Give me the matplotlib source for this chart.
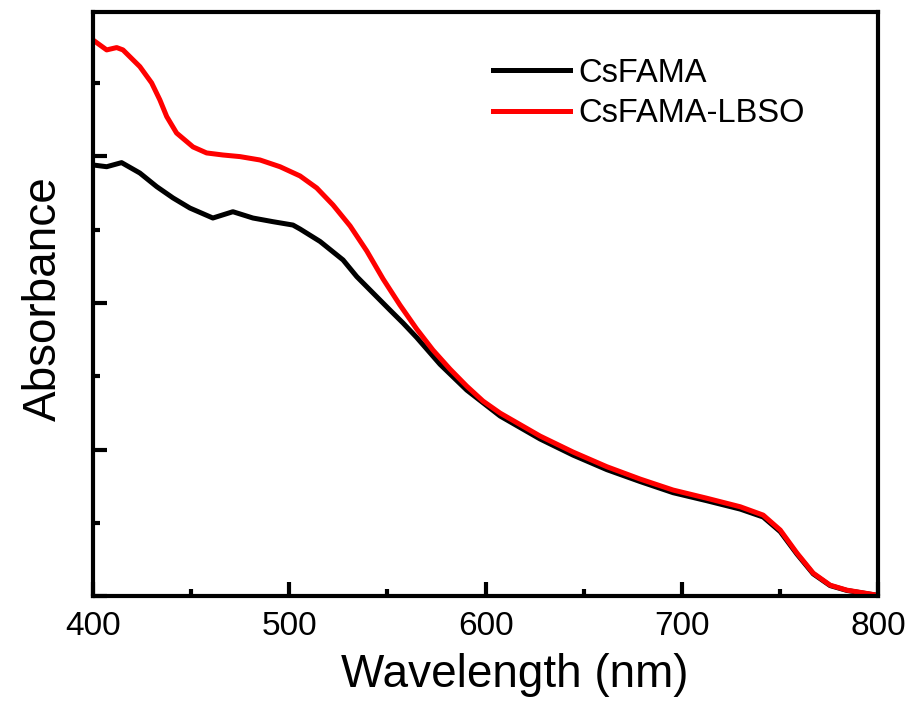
import matplotlib
matplotlib.use("Agg")
import matplotlib.pyplot as plt
from matplotlib.ticker import MultipleLocator, NullFormatter

plt.rcParams['font.family'] = ['Liberation Sans', 'DejaVu Sans']

# values
wl_lbso = [400.0, 407.0, 412.1, 415.3, 423.9, 429.9, 434.1, 437.6, 442.6, 451.0,
           457.9, 466.2, 474.9, 485.1, 495.3, 505.5, 514.0, 522.3, 531.0, 539.5,
           547.8, 556.4, 564.9, 573.2, 581.9, 590.4, 598.7, 607.4, 627.8, 644.6,
           661.8, 678.7, 695.5, 712.4, 729.7, 741.4, 750.1, 758.6, 766.9, 775.5,
           784.0, 799.3]
abs_lbso = [3.795, 3.727, 3.743, 3.727, 3.613, 3.502, 3.386, 3.272, 3.160, 3.065,
            3.024, 3.010, 2.999, 2.976, 2.930, 2.867, 2.785, 2.669, 2.526, 2.355,
            2.164, 1.986, 1.823, 1.679, 1.549, 1.433, 1.331, 1.249, 1.092, 0.983,
            0.883, 0.799, 0.724, 0.669, 0.610, 0.553, 0.451, 0.294, 0.157, 0.075,
            0.041, 0.007]

wl_ref = [400.0, 407.0, 414.6, 423.9, 432.5, 440.8, 449.4, 461.1, 471.3, 481.5,
          491.7, 501.9, 505.5, 515.7, 527.4, 534.4, 542.7, 551.3, 558.0, 564.9,
          576.8, 590.4, 607.4, 627.8, 644.6, 661.8, 678.7, 695.5, 712.4, 729.7,
          741.4, 750.1, 758.6, 766.9, 775.5, 784.0, 799.3]
abs_ref = [2.942, 2.930, 2.958, 2.887, 2.794, 2.717, 2.648, 2.580, 2.623, 2.580,
           2.555, 2.532, 2.505, 2.420, 2.294, 2.180, 2.068, 1.952, 1.863, 1.765,
           1.582, 1.406, 1.229, 1.072, 0.962, 0.863, 0.782, 0.706, 0.652, 0.594,
           0.540, 0.440, 0.287, 0.152, 0.072, 0.039, 0.006]

fig = plt.figure(figsize=(9.11, 7.03), dpi=100)
ax = fig.add_axes([0.102, 0.152, 0.862, 0.831])

ax.plot(wl_ref, abs_ref, color="black", lw=3.6, label="CsFAMA",
        solid_joinstyle="round")
ax.plot(wl_lbso, abs_lbso, color="#ff0000", lw=3.6, label="CsFAMA-LBSO",
        solid_joinstyle="round")

ax.set_xlim(400, 800)
ax.set_ylim(0, 3.986)
ax.xaxis.set_major_locator(MultipleLocator(100))
ax.xaxis.set_minor_locator(MultipleLocator(50))
ax.yaxis.set_major_locator(MultipleLocator(1))
ax.yaxis.set_minor_locator(MultipleLocator(0.5))
ax.yaxis.set_major_formatter(NullFormatter())

for s in ax.spines.values():
    s.set_linewidth(3)
ax.tick_params(which="both", direction="in", width=3)
ax.tick_params(which="major", length=10, labelsize=24, pad=11)
ax.tick_params(which="minor", length=5)

ax.set_xlabel("Wavelength (nm)", fontsize=33)
ax.set_ylabel("Absorbance", fontsize=33)
ax.xaxis.set_label_coords(0.5376, -0.097)
ax.yaxis.set_label_coords(-0.034, 0.51)

ax.legend(loc="upper left", bbox_to_anchor=(0.51, 0.922), frameon=False,
          borderpad=0, borderaxespad=0,
          fontsize=23.5, handlelength=2.36, handletextpad=0.25, labelspacing=0.3)

fig.savefig("out.png", dpi=100)
